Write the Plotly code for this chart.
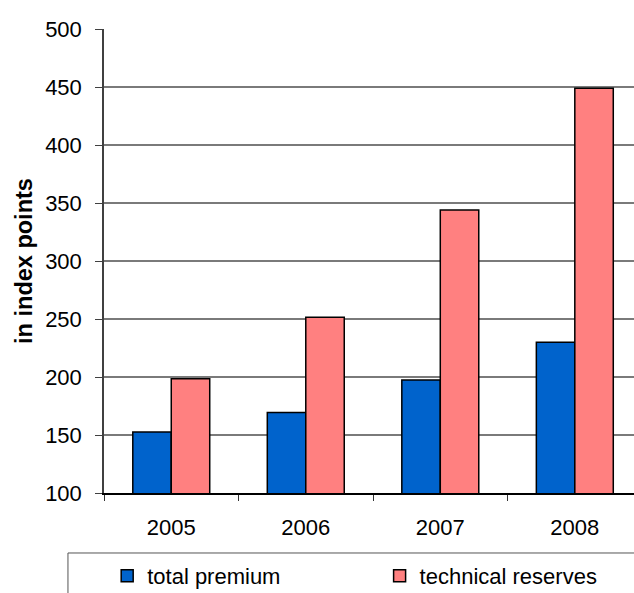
import plotly.graph_objects as go

years = ["2005", "2006", "2007", "2008"]
total_premium = [152.5, 169.5, 197.5, 230]
technical_reserves = [198.5, 251.5, 344, 449]

FONT = "Liberation Sans, Arial, sans-serif"

fig = go.Figure()
fig.add_trace(go.Bar(
    x=years, y=total_premium, name="total premium", legend="legend",
    marker=dict(color="#0063CC", line=dict(color="#000000", width=1.5)),
))
fig.add_trace(go.Bar(
    x=years, y=technical_reserves, name="technical reserves", legend="legend2",
    marker=dict(color="#FF8080", line=dict(color="#000000", width=1.5)),
))

# frame around the legend, running off the right and bottom edges
fig.add_shape(type="rect", xref="paper", yref="paper",
              x0=-0.068, x1=1.2, y0=-0.6, y1=-0.1293,
              line=dict(color="#555555", width=1), layer="above")

legend_common = dict(
    orientation="h", xref="paper", yref="paper",
    yanchor="middle", y=-0.179, xanchor="left",
    font=dict(family=FONT, size=22, color="#000000"),
    bgcolor="rgba(0,0,0,0)", borderwidth=0,
)

fig.update_layout(
    width=634, height=593,
    margin=dict(l=104, r=0, t=29, b=100, autoexpand=False),
    paper_bgcolor="white", plot_bgcolor="white",
    barmode="group", bargap=0.428, bargroupgap=0,
    font=dict(family=FONT, size=22, color="#000000"),
    showlegend=True,
    legend=dict(legend_common, x=0.006),
    legend2=dict(legend_common, x=0.52),
    xaxis=dict(
        type="category", range=[-0.5, 3.44],
        showgrid=False, showline=True, linecolor="#000000", linewidth=1.5,
        ticks="outside", tickson="boundaries", ticklen=6, tickcolor="#333333",
        tickwidth=1, ticklabelstandoff=14,
        tickfont=dict(family=FONT, size=22),
    ),
    yaxis=dict(
        range=[100, 500], tickvals=[100, 150, 200, 250, 300, 350, 400, 450, 500],
        showgrid=True, gridcolor="#7a7a7a", gridwidth=1.5,
        showline=True, linecolor="#404040", linewidth=1.5,
        ticks="outside", ticklen=7, tickcolor="#404040", tickwidth=1,
        ticklabelstandoff=9, zeroline=False,
        tickfont=dict(family=FONT, size=22),
        title=dict(text="<b>in index points</b>", standoff=6,
                   font=dict(family=FONT, size=23.5)),
    ),
)

fig.write_html("out.html")
